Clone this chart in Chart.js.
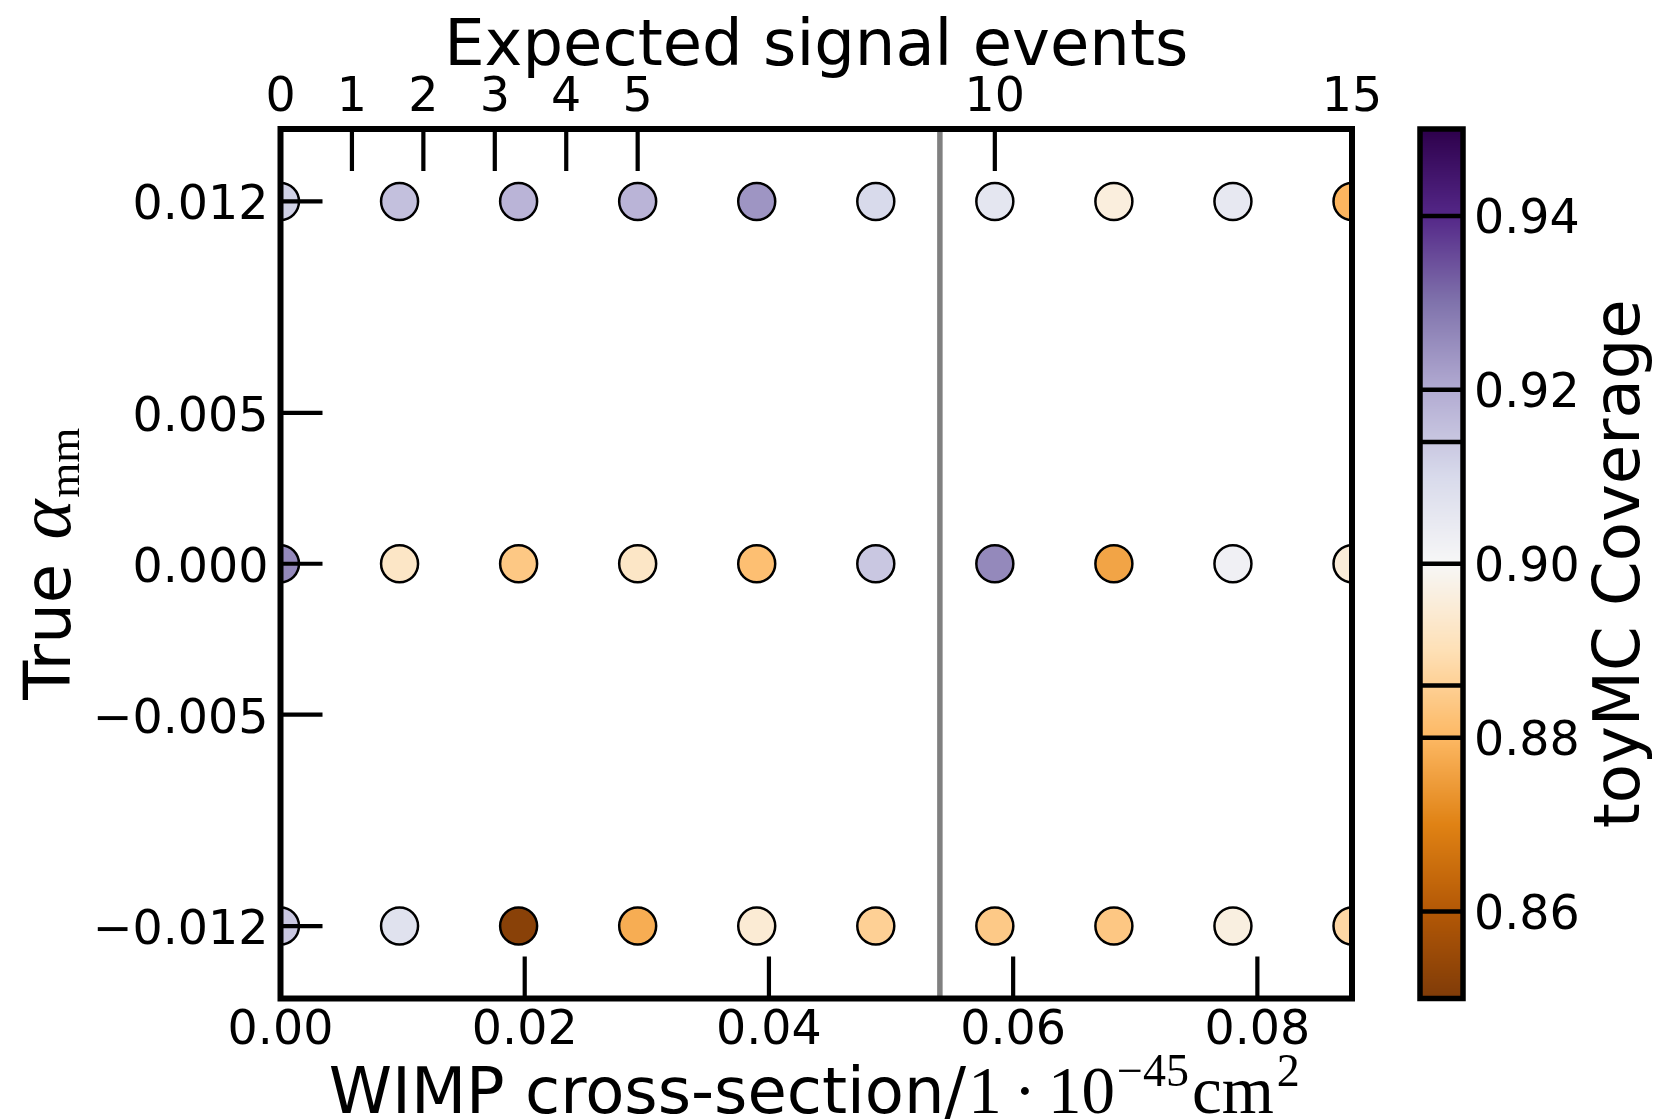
<!DOCTYPE html>
<html>
<head>
<meta charset="utf-8">
<title>toyMC coverage</title>
<script src="https://cdn.jsdelivr.net/npm/chart.js@4.4.1/dist/chart.umd.min.js"></script>
<style>
  html, body { margin: 0; padding: 0; background: #ffffff; }
  canvas { display: block; }
</style>
</head>
<body>
<canvas id="coverage" width="1654" height="1119"></canvas>
<script>
// --- DATA ---

// WIMP cross-section grid (1e-45 cm^2)
const crossSection = [0.0, 0.00975, 0.0195, 0.02925, 0.039, 0.04875, 0.0585, 0.06825, 0.078, 0.08775];
// true alpha_mm rows
const alphaTrue = [0.012, 0.0, -0.012];
// toyMC coverage, one array per alpha row
const coveragePos = [0.912, 0.9155, 0.918, 0.918, 0.924, 0.910, 0.906, 0.896, 0.905, 0.8795];
const coverageZero = [0.926, 0.8925, 0.884, 0.8925, 0.8818, 0.914, 0.926, 0.8763, 0.9023, 0.8952];
const coverageNeg = [0.914, 0.9074, 0.852, 0.878, 0.8946, 0.886, 0.8843, 0.8838, 0.8965, 0.8878];

const xTicks = [0.0, 0.02, 0.04, 0.06, 0.08];
const eventTicks = [0, 1, 2, 3, 4, 5, 10, 15];
const yTicks = [0.012, 0.005, 0.0, -0.005, -0.012];
const cbarTicks = [0.86, 0.88, 0.90, 0.92, 0.94];
const cbarLevels = [0.86, 0.88, 0.886, 0.90, 0.914, 0.92, 0.94];
const signalLine = 0.054;   // vertical marker on the cross-section axis

const X_MAX = 0.08775;
const Y_LIM = 0.0144;
const EVENTS_MAX = 15;
const C_MIN = 0.85;
const C_MAX = 0.95;

// --- COLOUR MAP (PuOr) ---

const PUOR = ['#7f3b08', '#b35806', '#e08214', '#fdb863', '#fee0b6', '#f7f7f7',
              '#d8daeb', '#b2abd2', '#8073ac', '#542788', '#2d004b'];

function hexRgb(h) {
    return [parseInt(h.slice(1, 3), 16), parseInt(h.slice(3, 5), 16), parseInt(h.slice(5, 7), 16)];
}
const PUOR_RGB = PUOR.map(hexRgb);

function coverageColor(v) {
    let t = (v - C_MIN) / (C_MAX - C_MIN);
    t = Math.min(1, Math.max(0, t)) * (PUOR_RGB.length - 1);
    const i = Math.min(PUOR_RGB.length - 2, Math.floor(t));
    const f = t - i;
    const a = PUOR_RGB[i], b = PUOR_RGB[i + 1];
    const c = [0, 1, 2].map(k => Math.round(a[k] + (b[k] - a[k]) * f));
    return `rgb(${c[0]}, ${c[1]}, ${c[2]})`;
}

function rowDataset(alpha, coverage) {
    return {
        data: crossSection.map(x => ({ x: x, y: alpha })),
        pointBackgroundColor: coverage.map(coverageColor),
        pointBorderColor: '#000000',
        pointBorderWidth: 2.5,
        pointRadius: 18.5,
        pointHoverRadius: 18.5,
        clip: 0
    };
}

// --- DRAWING HELPERS ---

const SANS = '"DejaVu Sans", sans-serif';
const SERIF = '"Liberation Serif", "DejaVu Serif", serif';
const TICK_FONT = `47.5px ${SANS}`;
const LABEL_FONT = `64px ${SANS}`;

function line(ctx, x1, y1, x2, y2, width, color) {
    ctx.beginPath();
    ctx.moveTo(x1, y1);
    ctx.lineTo(x2, y2);
    ctx.lineWidth = width;
    ctx.strokeStyle = color;
    ctx.stroke();
}

// draws a list of [text, font, dy, gapAfter] pieces centred on x=0 along the baseline
function drawPieces(ctx, pieces) {
    let total = 0;
    pieces.forEach(p => { ctx.font = p[1]; total += ctx.measureText(p[0]).width + (p[3] || 0); });
    let x = -total / 2;
    ctx.textAlign = 'left';
    ctx.textBaseline = 'alphabetic';
    pieces.forEach(p => {
        ctx.font = p[1];
        ctx.fillText(p[0], x, p[2]);
        x += ctx.measureText(p[0]).width + (p[3] || 0);
    });
}

const axesPlugin = {
    id: 'axesPlugin',
    beforeDatasetsDraw(chart) {
        const ctx = chart.ctx;
        const a = chart.chartArea;
        const gx = chart.scales.x.getPixelForValue(signalLine);
        ctx.save();
        line(ctx, gx, a.top, gx, a.bottom, 5.5, '#808080');
        ctx.restore();
    },
    afterDatasetsDraw(chart) {
        const ctx = chart.ctx;
        const a = chart.chartArea;
        const sx = chart.scales.x, sy = chart.scales.y;
        const st = chart.scales.xTop, sc = chart.scales.cbar;
        const TICK = 42;
        ctx.save();
        ctx.fillStyle = '#000000';

        // inward ticks
        xTicks.forEach(v => {
            const px = sx.getPixelForValue(v);
            line(ctx, px, a.bottom, px, a.bottom - TICK, 4.2, '#000');
        });
        eventTicks.forEach(v => {
            const px = st.getPixelForValue(v);
            line(ctx, px, a.top, px, a.top + TICK, 4.2, '#000');
        });
        yTicks.forEach(v => {
            const py = sy.getPixelForValue(v);
            line(ctx, a.left, py, a.left + TICK, py, 4.2, '#000');
        });

        // frame
        ctx.lineWidth = 6;
        ctx.strokeStyle = '#000';
        ctx.strokeRect(a.left, a.top, a.right - a.left, a.bottom - a.top);

        // tick labels
        ctx.font = TICK_FONT;
        ctx.textAlign = 'center';
        ctx.textBaseline = 'alphabetic';
        xTicks.forEach(v => ctx.fillText(v.toFixed(2), sx.getPixelForValue(v), 1044));
        eventTicks.forEach(v => ctx.fillText(String(v), st.getPixelForValue(v), 111));
        ctx.textAlign = 'right';
        yTicks.forEach(v => {
            const txt = (v < 0 ? '\u2212' : '') + Math.abs(v).toFixed(3);
            ctx.fillText(txt, a.left - 12, sy.getPixelForValue(v) + 18);
        });

        // axis titles
        ctx.font = LABEL_FONT;
        ctx.textAlign = 'center';
        ctx.fillText('Expected signal events', (a.left + a.right) / 2, 65);

        ctx.save();
        ctx.translate((a.left + a.right) / 2 - 2, 1113);
        drawPieces(ctx, [
            ['WIMP cross-section/', LABEL_FONT, 0, 2],
            ['1', `67px ${SERIF}`, 0, 12],
            ['\u00b7', `67px ${SERIF}`, 0, 12],
            ['10', `67px ${SERIF}`, 0, 2],
            ['\u221245', `46px ${SERIF}`, -27, 3],
            ['cm', `67px ${SERIF}`, 0, 3],
            ['2', `46px ${SERIF}`, -27, 0]
        ]);
        ctx.restore();

        ctx.save();
        ctx.translate(70, (a.top + a.bottom) / 2);
        ctx.rotate(-Math.PI / 2);
        drawPieces(ctx, [
            ['True ', LABEL_FONT, 0, 4],
            ['\u03b1', `italic 76px ${SERIF}`, 0, 2],
            ['mm', `45px ${SERIF}`, 9, 0]
        ]);
        ctx.restore();

        // colour bar
        const cbL = 1420, cbR = 1463;
        for (let y = Math.floor(a.top); y < Math.ceil(a.bottom); y++) {
            ctx.fillStyle = coverageColor(sc.getValueForPixel(y + 0.5));
            ctx.fillRect(cbL, y, cbR - cbL, 1);
        }
        cbarLevels.forEach(v => {
            const py = sc.getPixelForValue(v);
            line(ctx, cbL, py, cbR, py, 4.5, '#000');
        });
        ctx.lineWidth = 5.5;
        ctx.strokeStyle = '#000';
        ctx.strokeRect(cbL, a.top, cbR - cbL, a.bottom - a.top);

        ctx.fillStyle = '#000';
        ctx.font = TICK_FONT;
        ctx.textAlign = 'left';
        cbarTicks.forEach(v => ctx.fillText(v.toFixed(2), 1474, sc.getPixelForValue(v) + 17));

        ctx.save();
        ctx.translate(1639, (a.top + a.bottom) / 2);
        ctx.rotate(-Math.PI / 2);
        ctx.font = LABEL_FONT;
        ctx.textAlign = 'center';
        ctx.fillText('toyMC Coverage', 0, 0);
        ctx.restore();

        ctx.restore();
    }
};

// --- CHART ---

const chart = new Chart(document.getElementById('coverage').getContext('2d'), {
    type: 'scatter',
    data: {
        datasets: [
            rowDataset(alphaTrue[0], coveragePos),
            rowDataset(alphaTrue[1], coverageZero),
            rowDataset(alphaTrue[2], coverageNeg)
        ]
    },
    options: {
        responsive: false,
        devicePixelRatio: 1,
        animation: false,
        events: [],
        layout: { padding: { left: 280.5, right: 302, top: 129, bottom: 120.5 } },
        plugins: {
            legend: { display: false },
            tooltip: { enabled: false }
        },
        scales: {
            x: { type: 'linear', min: 0, max: X_MAX, display: false },
            y: { type: 'linear', min: -Y_LIM, max: Y_LIM, display: false },
            xTop: { type: 'linear', axis: 'x', position: 'top', min: 0, max: EVENTS_MAX, display: false },
            cbar: { type: 'linear', axis: 'y', position: 'right', min: C_MIN, max: C_MAX, display: false }
        }
    },
    plugins: [axesPlugin]
});
</script>
</body>
</html>
